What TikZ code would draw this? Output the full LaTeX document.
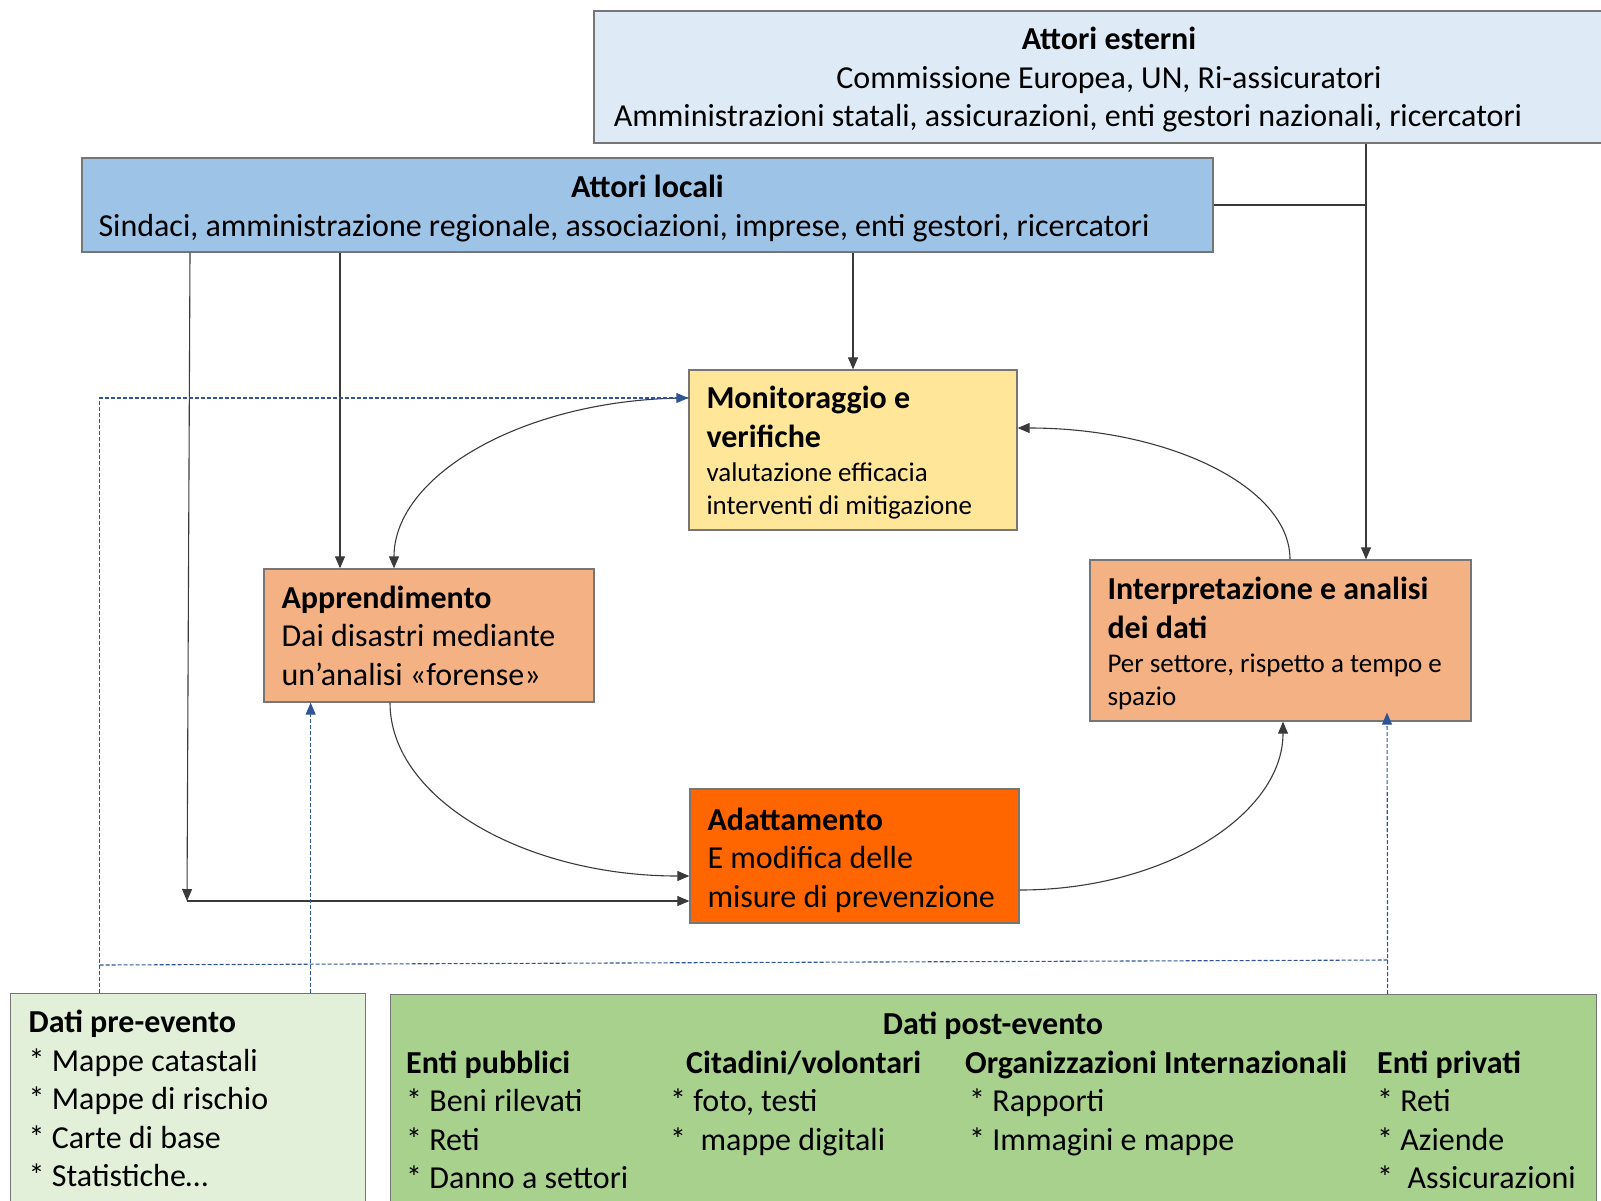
\documentclass[tikz,border=0pt]{standalone}
\usepackage{fontspec}
\setmainfont{Carlito}
\usetikzlibrary{arrows.meta}

\definecolor{extfill}{HTML}{DEEBF7}
\definecolor{locfill}{HTML}{9DC3E6}
\definecolor{monfill}{HTML}{FFE699}
\definecolor{anafill}{HTML}{F4B183}
\definecolor{adafill}{HTML}{FF6600}
\definecolor{prefill}{HTML}{E2F0D9}
\definecolor{postfill}{HTML}{A9D18E}
\definecolor{edge}{HTML}{767676}
\definecolor{wire}{HTML}{3A3A3A}
\definecolor{datablue}{HTML}{2F5597}

\begin{document}
\begin{tikzpicture}[
            x = 1pt, y = -1pt,
            box/.style={draw=edge, line width=1.3pt, rectangle, inner xsep=17.4pt, inner ysep=0pt, align=flush left, font=\fontsize{32}{38.5}\selectfont},
            col/.style={inner sep=0pt, align=left, anchor=north west, font=\fontsize{32}{38.5}\selectfont},
            conn/.style={draw=wire, line width=1.1pt, -{Triangle[length=12pt, width=10pt]}},
            tie/.style={draw=wire, line width=1.1pt},
            data/.style={draw=datablue, line width=1.1pt, dash pattern=on 4pt off 2pt, -{Triangle[length=12pt, width=10pt]}},
            datatie/.style={draw=datablue, line width=1.1pt, dash pattern=on 4pt off 2pt},
            ]
        \useasboundingbox (0,0) rectangle (1601,1200);

        % actors
        \node[box, fill=extfill, align=center, minimum width=1030pt, minimum height=132pt] (esterni) at (1109, 77)
            {\rule{0pt}{28pt}{\bfseries Attori esterni}\\Commissione Europea, UN, Ri-assicuratori\\\hspace*{-82pt}Amministrazioni statali, assicurazioni, enti gestori nazionali, ricercatori};
        \node[box, fill=locfill, align=center, minimum width=1131pt, minimum height=94pt] (locali) at (647.5, 205)
            {\rule{0pt}{29pt}{\bfseries Attori locali}\\\hspace*{-47pt}Sindaci, amministrazione regionale, associazioni, imprese, enti gestori, ricercatori};

        % cycle
        \node[box, fill=monfill, minimum width=328pt, minimum height=160pt, text width=293pt] (mon) at (853, 450)
            {{\bfseries\rule{0pt}{28pt}Monitoraggio e\\verifiche\par}\vspace{1pt}{\fontsize{27}{33}\selectfont valutazione efficacia\\interventi di mitigazione\par}};
        \node[box, fill=anafill, minimum width=330pt, minimum height=133pt, text width=295pt] (app) at (429, 635.5)
            {{\bfseries Apprendimento}\\Dai disastri mediante\\un’analisi «forense»};
        \node[box, fill=anafill, minimum width=381pt, minimum height=161pt, text width=346pt] (int) at (1280.5, 640.5)
            {{\bfseries\rule{0pt}{28pt}Interpretazione e analisi\\dei dati\par}\vspace{1pt}{\fontsize{27}{33}\selectfont Per settore, rispetto a tempo e\\spazio\par}};
        \node[box, fill=adafill, minimum width=329pt, minimum height=134pt, text width=294pt] (ada) at (854.5, 856)
            {\rule{0pt}{30.5pt}{\bfseries Adattamento}\\E modifica delle\\misure di prevenzione};

        % data
        \node[box, fill=prefill, anchor=north west, inner xsep=18pt, minimum width=355pt, minimum height=210pt, text width=319pt] (pre) at (10, 993)
            {{\bfseries Dati pre-evento}\\{*} Mappe catastali\\{*} Mappe di rischio\\{*} Carte di base\\{*} Statistiche…};
        \node[box, fill=postfill, anchor=north west, minimum width=1206pt, minimum height=210pt] (post) at (390, 994) {};
        \node[col, anchor=center, font=\fontsize{32}{38.5}\selectfont\bfseries] (posttitle) at (993, 1026) {Dati post-evento};
        \node[col] (pubblici) at (406, 1050.5)
            {{\bfseries Enti pubblici}\\{*} Beni rilevati\\{*} Reti\\{*} Danno a settori};
        \node[col] (citadini) at (670, 1050.5)
            {\hspace*{16pt}{\bfseries Citadini/volontari}\\{*} foto, testi\\{*}\ \ mappe digitali};
        \node[col] (organizzazioni) at (965, 1050.5)
            {{\bfseries Organizzazioni Internazionali}\\\hspace*{4pt}{*} Rapporti\\\hspace*{4pt}{*} Immagini e mappe};
        \node[col] (privati) at (1377, 1050.5)
            {{\bfseries Enti privati}\\{*} Reti\\{*} Aziende\\{*}\ \ Assicurazioni};

        % links from the actors
        \coordinate (lbend) at (187, 901);
        \coordinate (appin) at ([xshift=-89pt]app.north);
        \coordinate (intin) at ([xshift=85.5pt]int.north);
        \draw[conn] ([xshift=-457.5pt]locali.south) -- (lbend);
        \draw[conn] (lbend) -- (lbend -| ada.west);
        \draw[conn] (locali.south -| appin) -- (appin);
        \draw[conn] (locali.south -| mon.north) -- (mon.north);
        \draw[conn] (esterni.south -| intin) -- (intin);
        \draw[tie] (locali.east) -- (locali.east -| intin);

        % the loop
        \draw[conn] ([yshift=52pt]mon.west) .. controls +(-162,0) and +(0,-94) .. ([xshift=-35pt]app.north);
        \draw[conn] ([xshift=-39pt]app.south) .. controls +(0,96) and +(-165,0) .. ([yshift=-20pt]ada.west);
        \draw[conn] ([yshift=-34pt]ada.east) .. controls +(145,0) and +(0,93) .. ([xshift=2.5pt]int.south);
        \draw[conn] ([xshift=9.5pt]int.north) .. controls +(0,-73) and +(150,0) .. ([yshift=22pt]mon.east);

        % data flows
        \coordinate (prel) at ([xshift=-88.5pt]pre.north);
        \coordinate (prer) at ([xshift=122.5pt]pre.north);
        \coordinate (postr) at ([xshift=394pt]post.north);
        \coordinate (intdata) at ([xshift=106.5pt, yshift=9pt]int.south);
        \draw[data] (prel) |- ([yshift=52pt]mon.west);
        \draw[data] (prer) -- (prer |- app.south);
        \draw[data] (postr) -- (intdata);
        \draw[datatie] ([yshift=28pt]prel) -- ([yshift=34pt]postr);
    \end{tikzpicture}
\end{document}
